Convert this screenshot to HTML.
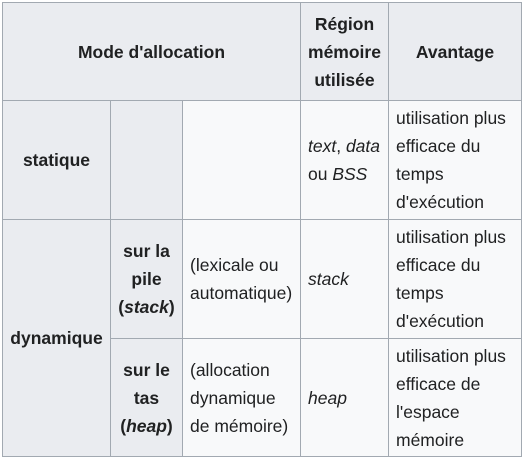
<!DOCTYPE html>
<html><head><meta charset="utf-8"><style>
body{margin:0;background:#fff;width:523px;height:458px;position:relative;font-family:"Liberation Sans",Arial,sans-serif;font-size:17.5px;color:#202122;}
#g{position:absolute;left:2px;top:2px;width:520px;height:455px;background:#a2a9b1;}
.c{position:absolute;display:flex;align-items:center;box-sizing:border-box;line-height:28px;background:#f8f9fa;}
.h{background:#eaecf0;font-weight:bold;justify-content:center;text-align:center;}
.l{padding-left:7px;}
i{font-style:italic}
</style></head><body>
<div id="g"></div>
<div class="c h" style="left:3px;top:3px;width:297px;height:97px"><div>Mode d'allocation</div></div>
<div class="c h" style="left:301px;top:3px;width:87px;height:97px"><div>Région<br>mémoire<br>utilisée</div></div>
<div class="c h" style="left:389px;top:3px;width:132px;height:97px"><div>Avantage</div></div>

<div class="c h" style="left:3px;top:101px;width:107px;height:118px"><div>statique</div></div>
<div class="c h" style="left:111px;top:101px;width:71px;height:118px"></div>
<div class="c" style="left:183px;top:101px;width:117px;height:118px"></div>
<div class="c l" style="left:301px;top:101px;width:87px;height:118px"><div><i>text</i>, <i>data</i><br>ou <i>BSS</i></div></div>
<div class="c l" style="left:389px;top:101px;width:132px;height:118px"><div>utilisation plus<br>efficace du<br>temps<br>d'exécution</div></div>

<div class="c h" style="left:3px;top:220px;width:107px;height:236px"><div>dynamique</div></div>
<div class="c h" style="left:111px;top:220px;width:71px;height:118px"><div>sur la<br>pile<br>(<i>stack</i>)</div></div>
<div class="c l" style="left:183px;top:220px;width:117px;height:118px"><div>(lexicale ou<br>automatique)</div></div>
<div class="c l" style="left:301px;top:220px;width:87px;height:118px"><div><i>stack</i></div></div>
<div class="c l" style="left:389px;top:220px;width:132px;height:118px"><div>utilisation plus<br>efficace du<br>temps<br>d'exécution</div></div>

<div class="c h" style="left:111px;top:339px;width:71px;height:117px"><div>sur le<br>tas<br>(<i>heap</i>)</div></div>
<div class="c l" style="left:183px;top:339px;width:117px;height:117px"><div>(allocation<br>dynamique<br>de mémoire)</div></div>
<div class="c l" style="left:301px;top:339px;width:87px;height:117px"><div><i>heap</i></div></div>
<div class="c l" style="left:389px;top:339px;width:132px;height:117px"><div>utilisation plus<br>efficace de<br>l'espace<br>mémoire</div></div>
</body></html>
